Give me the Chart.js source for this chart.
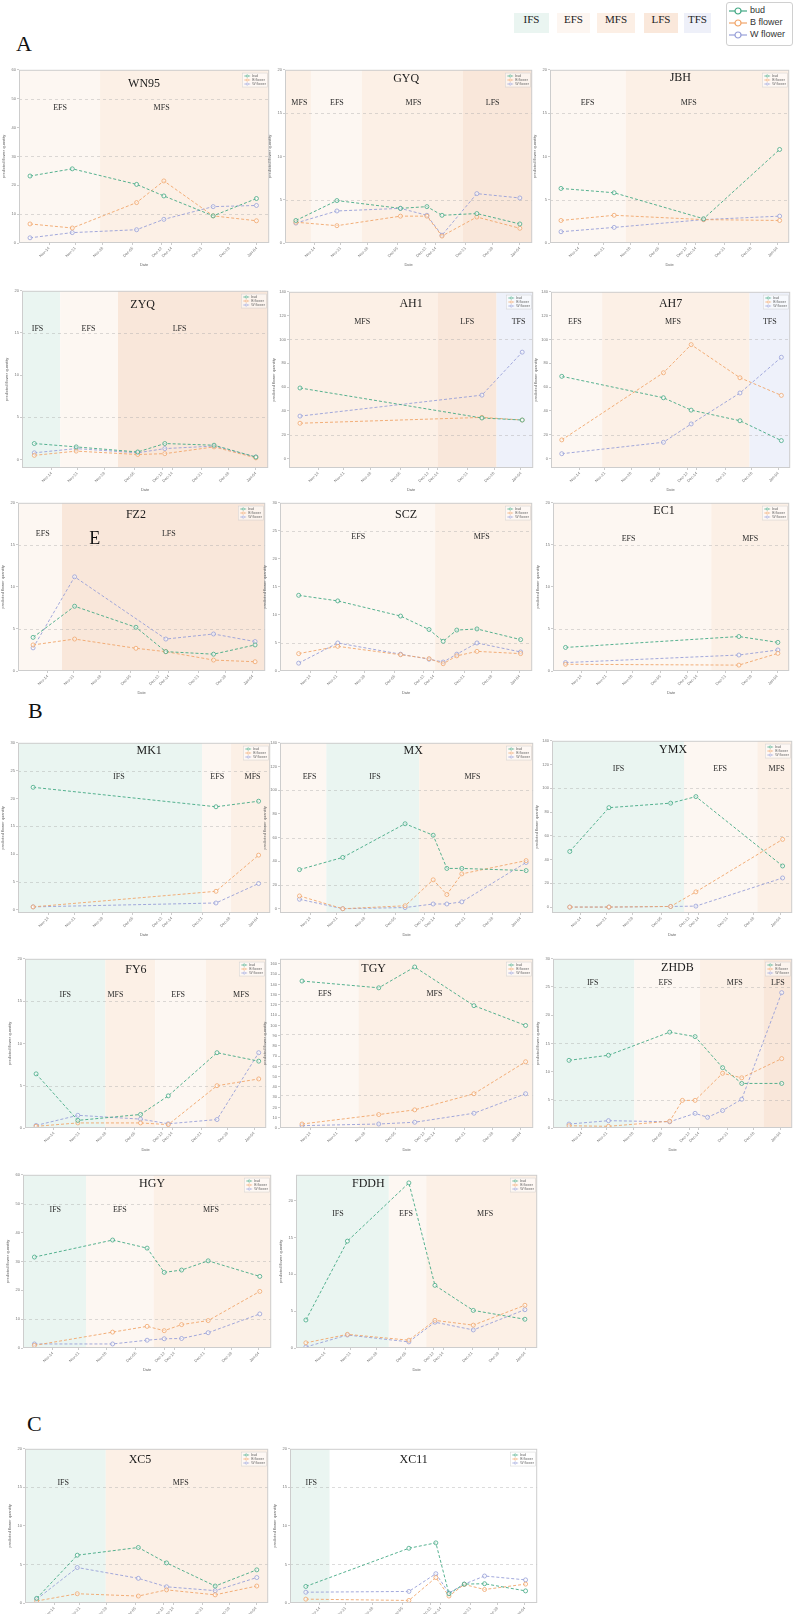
<!DOCTYPE html>
<html>
<head>
<meta charset="utf-8">
<script src="https://cdn.jsdelivr.net/npm/chart.js@4.4.1/dist/chart.umd.min.js"></script>
<style>
body { margin: 0; background: #fff; width: 794px; height: 1614px; position: relative; overflow: hidden; }
.sec { position: absolute; font: 22px "Liberation Serif", serif; color: #111; line-height: 26px; }
.ph { position: absolute; top: 13px; height: 20px; line-height: 20px; text-align: center; font: 11px "Liberation Serif", serif; color: #222; }
canvas.p { position: absolute; }
#lg { position: absolute; left: 726px; top: 2px; width: 67px; height: 44px; border: 1px solid #d0d0d0; border-radius: 3px; box-sizing: border-box; font: 9px "Liberation Sans Narrow", "Liberation Sans", sans-serif; color: #333; }
#lg div { position: absolute; left: 2px; height: 10px; line-height: 10px; white-space: nowrap; }
#lg svg { vertical-align: middle; margin-right: 3px; }
</style>
</head>
<body>
<div class="sec" style="left:16px;top:31px">A</div>
<div class="sec" style="left:28px;top:698px">B</div>
<div class="sec" style="left:27px;top:1411px">C</div>

<div class="ph" style="left:514px;width:35px;background:#eaf5f1">IFS</div>
<div class="ph" style="left:557px;width:33px;background:#fdf6f1">EFS</div>
<div class="ph" style="left:597px;width:38px;background:#fcefe5">MFS</div>
<div class="ph" style="left:644px;width:34px;background:#fae8db">LFS</div>
<div class="ph" style="left:684px;width:27px;background:#eef0f9">TFS</div>
<div id="lg"></div>

<script>
// 日期轴：以天计（0-100 的窗口），刻度标签
const tickDays = [12, 22.5, 33.5, 45.5, 57, 61, 73, 84, 95];
const tickLabels = ['Nov-14', 'Nov-21', 'Nov-28', 'Dec-05', 'Dec-12', 'Dec-14', 'Dec-21', 'Dec-28', 'Jan-04'];

const seriesNames = ['bud', 'B flower', 'W flower'];
const seriesColors = ['#44a985', '#f1a66b', '#979fd8'];

// ---- A ----
const wn95Day = [4.4, 21.3, 47, 57.9, 77.6, 94.9];
const wn95Bud = [23.2, 25.7, 20.3, 16.3, 9.4, 15.4];
const wn95B = [6.6, 5.2, 14, 21.5, 9.4, 7.7];
const wn95W = [1.8, 3.6, 4.6, 8.2, 12.6, 13];
const wn95Phases = [[0, 32.4, 'EFS', 16.4], [32.4, 100, 'MFS', 57]];

const gyqDay = [4.4, 21, 46.7, 57.4, 63.5, 77.6, 95];
const gyqBud = [2.6, 4.9, 4.0, 4.2, 3.2, 3.4, 2.2];
const gyqB = [2.4, 2.0, 3.1, 3.1, 0.8, 3.0, 1.7];
const gyqW = [2.3, 3.7, 4.0, 3.2, 0.9, 5.7, 5.2];
const gyqPhases = [[0, 10.5, 'MFS', 5.8], [10.5, 31, 'EFS', 21], [31, 72, 'MFS', 52], [72, 100, 'LFS', 84]];

const jbhDay = [4.6, 26.8, 64.2, 96];
const jbhBud = [6.3, 5.8, 2.8, 10.8];
const jbhB = [2.6, 3.2, 2.7, 2.6];
const jbhW = [1.3, 1.8, 2.7, 3.1];
const jbhPhases = [[0, 31.6, 'EFS', 15.7], [31.6, 100, 'MFS', 58]];

const zyqDay = [5, 22, 47, 58, 78, 95];
const zyqBud = [1.9, 1.5, 0.9, 1.9, 1.7, 0.3];
const zyqB = [0.5, 1.0, 0.6, 0.7, 1.5, 0.2];
const zyqW = [0.8, 1.3, 0.8, 1.3, 1.6, 0.3];
const zyqPhases = [[0, 15.5, 'IFS', 6.3], [15.5, 39, 'EFS', 27], [39, 100, 'LFS', 64]];

const ah1Day = [4.5, 79, 95.5];
const ah1Bud = [59.2, 34, 32.3];
const ah1B = [29.6, 34.5, 32.3];
const ah1W = [35.6, 53.2, 89.3];
const ah1Phases = [[0, 61, 'MFS', 30], [61, 85, 'LFS', 73], [85, 100, 'TFS', 94]];

const ah7Day = [4.5, 47, 58.6, 79, 96.3];
const ah7Bud = [69, 51, 40.6, 31.7, 15];
const ah7B = [15.6, 72, 95.6, 67.8, 53];
const ah7W = [4, 13.6, 29, 55, 85];
const ah7Phases = [[0, 21.4, 'EFS', 10], [21.4, 83, 'MFS', 51], [83, 100, 'TFS', 91.5]];

const fz2Day = [6.1, 22.9, 47.7, 59.8, 79.1, 95.9];
const fz2Bud = [4.0, 7.7, 5.2, 2.3, 2.0, 3.1];
const fz2B = [3.1, 3.8, 2.7, 2.3, 1.3, 1.1];
const fz2W = [2.75, 11.2, null, 3.8, 4.4, 3.5];
const fz2Phases = [[0, 17.8, 'EFS', 10], [17.8, 100, 'LFS', 61]];

const sczDay = [7.4, 22.9, 47.8, 59.1, 64.7, 70.1, 78.1, 95.4];
const sczBud = [13.5, 12.5, 9.8, 7.4, 5.3, 7.3, 7.5, 5.6];
const sczB = [3.1, 4.4, 2.9, 2.2, 1.3, 2.7, 3.5, 3.1];
const sczW = [1.4, 5.0, 3.0, 2.1, 1.6, 3.0, 5.0, 3.4];
const sczPhases = [[0, 61.5, 'EFS', 31], [61.5, 100, 'MFS', 80]];

const ec1Day = [5.3, 78.7, 95.2];
const ec1Bud = [2.8, 4.1, 3.4];
const ec1B = [0.8, 0.7, 2.1];
const ec1W = [1.0, 1.9, 2.5];
const ec1Phases = [[0, 67, 'EFS', 32], [67, 100, 'MFS', 83.5]];

// ---- B ----
const mk1Day = [6, 78.5, 95.4];
const mk1Bud = [22, 18.5, 19.5];
const mk1B = [0.5, 3.3, 9.8];
const mk1W = [0.5, 1.2, 4.7];
const mk1Phases = [[0, 73, 'IFS', 40], [73, 84.5, 'EFS', 79], [84.5, 100, 'MFS', 93]];

const mxDay = [7.7, 24.8, 49.4, 60.5, 65.9, 71.8, 97.2];
const mxBud = [33, 43.3, 71.7, 62, 34, 34, 32.2];
const mxB = [10.8, 0, 2.5, 24.4, 12, 29.4, 40.6];
const mxW = [8, 0, 1, 4, 4, 5.8, 39];
const mxPhases = [[0, 18.3, 'EFS', 11.7], [18.3, 55, 'IFS', 37.5], [55, 100, 'MFS', 76]];

const ymxDay = [7.4, 23.7, 49.4, 59.9, 96];
const ymxBud = [46.8, 83.7, 87.5, 93, 34.6];
const ymxB = [0, 0, 0.5, 12.8, 57];
const ymxW = [0, 0, 0.5, 0.8, 24.5];
const ymxPhases = [[0, 55, 'IFS', 27.7], [55, 85.5, 'EFS', 70], [85.5, 100, 'MFS', 93.5]];

const fy6Day = [4.6, 21.9, 47.9, 59.4, 79.6, 96.9];
const fy6Bud = [6.4, 0.9, 1.6, 3.8, 8.9, 7.9];
const fy6B = [0.2, 0.6, 0.6, 0.4, 5.0, 5.8];
const fy6W = [0.3, 1.5, 1.05, 0.5, 1.0, 8.9];
const fy6Phases = [[0, 33.3, 'IFS', 16.7], [33.3, 54, 'MFS', 37.5], [54, 75, 'EFS', 63.5], [75, 100, 'MFS', 89.6]];

const tgyDay = [8.7, 39, 53.2, 76.6, 97];
const tgyBud = [143.3, 136.7, 157, 119.3, 100];
const tgyB = [3.9, 13.1, 17.7, 33.4, 64.6];
const tgyW = [2.3, 3.9, 5.6, 14.4, 33.4];
const tgyPhases = [[0, 31, 'EFS', 17.7], [31, 100, 'MFS', 61]];

const zhdbDay = [6.7, 23.2, 48.8, 54.1, 59.4, 64.6, 70.9, 78.9, 95.6];
const zhdbBud = [12, 12.9, 17, null, 16.2, null, 10.7, 7.9, 7.9];
const zhdbB = [0.4, 0.3, 1.2, 4.9, 4.9, null, 9.7, 8.9, 12.3];
const zhdbW = [0.7, 1.3, 1.1, null, 2.6, 1.9, 3.1, 5.1, 24];
const zhdbPhases = [[0, 34, 'IFS', 16.6], [34, 61.5, 'EFS', 47], [61.5, 88, 'MFS', 76], [88, 100, 'LFS', 94]];

const hgyDay = [4.6, 36.1, 50, 56.9, 63.9, 74.6, 95.4];
const hgyBud = [31.5, 37.4, 34.6, 26.2, 27, 30.2, 24.8];
const hgyB = [0.9, 5.5, 7.5, 6, 8.1, 9.5, 19.6];
const hgyW = [1.4, 1.4, 2.7, 3.2, 3.3, 5.3, 11.8];
const hgyPhases = [[0, 25.4, 'IFS', 13], [25.4, 52.6, 'EFS', 39], [52.6, 100, 'MFS', 75.7]];

const fddhDay = [4.1, 21.3, 46.8, 57.6, 73.5, 94.9];
const fddhBud = [3.8, 14.5, 22.4, 8.5, 5.1, 3.9];
const fddhB = [0.7, 1.85, 1.06, 3.75, 3.1, 5.8];
const fddhW = [0.14, 1.76, 0.83, 3.5, 2.45, 5.2];
const fddhPhases = [[0, 38.5, 'IFS', 17.4], [38.5, 54, 'EFS', 45.6], [54, 100, 'MFS', 78.4]];

// ---- C ----
const xc5Day = [4.8, 21.5, 46.6, 58.2, 78.2, 95.3];
const xc5Bud = [0.6, 6.2, 7.2, 5.2, 2.2, 4.3];
const xc5B = [0.26, 1.2, 0.9, 1.7, 1.06, 2.2];
const xc5W = [0.5, 4.6, 3.2, 2.1, 1.6, 3.3];
const xc5Phases = [[0, 33.2, 'IFS', 15.7], [33.2, 100, 'MFS', 64]];

const xc11Day = [6.4, 48.1, 59, 64.3, 70.5, 78.7, 95.3];
const xc11Bud = [2.15, 7.1, 7.8, 1.2, 2.45, 2.5, 1.57];
const xc11B = [0.5, 0.33, 3.3, 0.9, 2.4, 1.75, 2.45];
const xc11W = [1.4, 1.5, 3.8, 1.3, 2.45, 3.5, 3.0];
const xc11Phases = [[0, 16, 'IFS', 8.6]];

const phaseColors = { IFS: '#eaf5f1', EFS: '#fdf7f2', MFS: '#fcf0e6', LFS: '#f9e7da', TFS: '#eef1fa' };

// 每个子图的位置（绘图区 左,上,右,下）、坐标轴范围、标题位置
const panels = [
    { name: 'WN95', day: wn95Day, s: [wn95Bud, wn95B, wn95W], phases: wn95Phases, y: [0, 60, 10], refs: [10, 30, 50], rect: [19, 68, 271, 243], tx: 50, ty: 14, ly: 38 },
    { name: 'GYQ', day: gyqDay, s: [gyqBud, gyqB, gyqW], phases: gyqPhases, y: [0, 20, 5], refs: [5, 15], rect: [285, 68, 534, 243], tx: 49, ty: 9, ly: 33 },
    { name: 'JBH', day: jbhDay, s: [jbhBud, jbhB, jbhW], phases: jbhPhases, y: [0, 20, 5], refs: [5, 15], rect: [550, 68, 791, 243], tx: 54.5, ty: 8, ly: 33 },
    { name: 'ZYQ', day: zyqDay, s: [zyqBud, zyqB, zyqW], phases: zyqPhases, y: [-1, 20, 5], refs: [5, 15], rect: [22, 289, 270, 468], tx: 49, ty: 14, ly: 38 },
    { name: 'AH1', day: ah1Day, s: [ah1Bud, ah1B, ah1W], phases: ah1Phases, y: [-8, 140, 20], refs: [20, 100], rect: [289, 290, 535, 468], tx: 50, ty: 12, ly: 30 },
    { name: 'AH7', day: ah7Day, s: [ah7Bud, ah7B, ah7W], phases: ah7Phases, y: [-8, 140, 20], refs: [20, 100], rect: [551, 290, 792, 468], tx: 50, ty: 12, ly: 30 },
    { name: 'FZ2', day: fz2Day, s: [fz2Bud, fz2B, fz2W], phases: fz2Phases, y: [0, 20, 5], refs: [5, 15], rect: [18, 501, 267, 671], tx: 47.7, ty: 12, ly: 31,
      extra: { text: 'E', x: 31, dy: 36, font: '18px "Liberation Serif", serif' } },
    { name: 'SCZ', day: sczDay, s: [sczBud, sczB, sczW], phases: sczPhases, y: [0, 30, 5], refs: [5, 25], rect: [280, 501, 534, 671], tx: 50, ty: 12, ly: 34 },
    { name: 'EC1', day: ec1Day, s: [ec1Bud, ec1B, ec1W], phases: ec1Phases, y: [0, 20, 5], refs: [5, 15], rect: [553, 501, 791, 671], tx: 47, ty: 8, ly: 36 },
    { name: 'MK1', day: mk1Day, s: [mk1Bud, mk1B, mk1W], phases: mk1Phases, y: [-0.6, 30, 5], refs: [5, 15, 25], rect: [18, 741, 272, 913], tx: 52, ty: 8, ly: 34 },
    { name: 'MX', day: mxDay, s: [mxBud, mxB, mxW], phases: mxPhases, y: [-3.6, 140, 20], refs: [20, 60, 100], rect: [280, 741, 535, 913], tx: 52.6, ty: 8, ly: 34 },
    { name: 'YMX', day: ymxDay, s: [ymxBud, ymxB, ymxW], phases: ymxPhases, y: [-5, 140, 20], refs: [20, 60, 100], rect: [552, 739, 794, 913], tx: 50.4, ty: 9, ly: 28 },
    { name: 'FY6', day: fy6Day, s: [fy6Bud, fy6B, fy6W], phases: fy6Phases, y: [0, 20, 5], refs: [5, 15], rect: [25, 957, 268, 1128], tx: 46, ty: 11, ly: 36 },
    { name: 'TGY', day: tgyDay, s: [tgyBud, tgyB, tgyW], phases: tgyPhases, y: [0, 165, 10], refs: [32, 62, 92, 124], rect: [280, 957, 535, 1128], tx: 37, ty: 10, ly: 35 },
    { name: 'ZHDB', day: zhdbDay, s: [zhdbBud, zhdbB, zhdbW], phases: zhdbPhases, y: [0, 30, 5], refs: [5, 15, 25], rect: [553, 957, 794, 1128], tx: 52, ty: 9, ly: 24 },
    { name: 'HGY', day: hgyDay, s: [hgyBud, hgyB, hgyW], phases: hgyPhases, y: [0, 60, 10], refs: [10, 30, 50], rect: [23, 1173, 273, 1348], tx: 52, ty: 9, ly: 35 },
    { name: 'FDDH', day: fddhDay, s: [fddhBud, fddhB, fddhW], phases: fddhPhases, y: [0, 23.5, 5], refs: [], rect: [296, 1173, 539, 1348], tx: 30, ty: 9, ly: 39 },
    { name: 'XC5', day: xc5Day, s: [xc5Bud, xc5B, xc5W], phases: xc5Phases, y: [0, 20, 5], refs: [5, 15], rect: [25, 1447, 270, 1603], tx: 47.3, ty: 11, ly: 34 },
    { name: 'XC11', day: xc11Day, s: [xc11Bud, xc11B, xc11W], phases: xc11Phases, y: [0, 20, 5], refs: [5, 15], rect: [290, 1447, 539, 1603], tx: 50, ty: 11, ly: 34 }
];

const Y_W = 18, X_H = 24, PAD_T = 3, PAD_R = 3;

// 子图装饰：阶段色带、虚线参考线、边框、标题、阶段标签、小图例
function makeDeco(p) {
    return {
        id: 'deco',
        beforeDatasetsDraw(chart) {
            const { ctx, chartArea: a, scales: { x, y } } = chart;
            ctx.save();
            ctx.beginPath();
            ctx.rect(a.left, a.top, a.right - a.left, a.bottom - a.top);
            ctx.clip();
            p.phases.forEach(ph => {
                const x0 = x.getPixelForValue(ph[0]);
                const x1 = x.getPixelForValue(ph[1]);
                ctx.fillStyle = phaseColors[ph[2]];
                ctx.fillRect(x0, a.top, x1 - x0, a.bottom - a.top);
            });
            ctx.setLineDash([3, 3]);
            ctx.lineWidth = 0.8;
            ctx.strokeStyle = 'rgba(170,170,170,0.5)';
            p.refs.forEach(v => {
                const py = Math.round(y.getPixelForValue(v)) + 0.5;
                ctx.beginPath();
                ctx.moveTo(a.left, py);
                ctx.lineTo(a.right, py);
                ctx.stroke();
            });
            ctx.restore();
        },
        afterDraw(chart) {
            const { ctx, chartArea: a, scales: { x } } = chart;
            ctx.save();
            ctx.strokeStyle = '#cdcdcd';
            ctx.lineWidth = 1;
            ctx.strokeRect(a.left + 0.5, a.top + 0.5, a.right - a.left - 1, a.bottom - a.top - 1);

            ctx.fillStyle = '#1a1a1a';
            ctx.textAlign = 'center';
            ctx.textBaseline = 'middle';
            ctx.font = '12px "Liberation Serif", serif';
            ctx.fillText(p.name, x.getPixelForValue(p.tx), a.top + p.ty);

            ctx.font = '8px "Liberation Serif", serif';
            ctx.fillStyle = '#2a2a2a';
            p.phases.forEach(ph => {
                ctx.fillText(ph[2], x.getPixelForValue(ph[3]), a.top + p.ly);
            });
            if (p.extra) {
                ctx.font = p.extra.font;
                ctx.fillStyle = '#111';
                ctx.fillText(p.extra.text, x.getPixelForValue(p.extra.x), a.top + p.extra.dy);
            }

            // 小图例
            const lx = a.right - 27, ly = a.top + 3;
            ctx.fillStyle = 'rgba(255,255,255,0.55)';
            ctx.strokeStyle = 'rgba(200,200,200,0.8)';
            ctx.lineWidth = 0.5;
            ctx.fillRect(lx, ly, 25, 14);
            ctx.strokeRect(lx + 0.25, ly + 0.25, 25, 14);
            ctx.textAlign = 'left';
            ctx.font = '3.5px "Liberation Sans", sans-serif';
            seriesNames.forEach((n, i) => {
                const yy = ly + 3.2 + i * 4;
                ctx.strokeStyle = seriesColors[i];
                ctx.lineWidth = 0.6;
                ctx.beginPath();
                ctx.moveTo(lx + 2, yy);
                ctx.lineTo(lx + 8, yy);
                ctx.stroke();
                ctx.beginPath();
                ctx.arc(lx + 5, yy, 1.1, 0, Math.PI * 2);
                ctx.fillStyle = '#fff';
                ctx.fill();
                ctx.stroke();
                ctx.fillStyle = '#666';
                ctx.fillText(n, lx + 10, yy);
            });
            ctx.restore();
        }
    };
}

function drawPanel(p) {
    const [L, T, R, B] = p.rect;
    const cv = document.createElement('canvas');
    cv.className = 'p';
    const w = R - L + Y_W + PAD_R, h = B - T + PAD_T + X_H;
    cv.width = w;
    cv.height = h;
    cv.style.left = (L - Y_W) + 'px';
    cv.style.top = (T - PAD_T) + 'px';
    cv.style.width = w + 'px';
    cv.style.height = h + 'px';
    document.body.appendChild(cv);

    const datasets = p.s.map((vals, i) => ({
        label: seriesNames[i],
        data: p.day.map((d, j) => vals[j] == null ? null : { x: d, y: vals[j] }).filter(Boolean),
        borderColor: seriesColors[i],
        backgroundColor: seriesColors[i],
        borderWidth: 0.9,
        borderDash: [3, 2],
        pointRadius: 2,
        pointBorderWidth: 0.8,
        pointBackgroundColor: 'rgba(255,255,255,0.5)',
        pointBorderColor: seriesColors[i],
        tension: 0,
        fill: false
    }));

    const tickFont = { size: 4, family: '"Liberation Sans", sans-serif' };
    new Chart(cv.getContext('2d'), {
        type: 'line',
        data: { datasets },
        options: {
            responsive: false,
            animation: false,
            devicePixelRatio: 1,
            layout: { padding: { top: PAD_T, right: PAD_R, left: 0, bottom: 0 } },
            plugins: { legend: { display: false }, tooltip: { enabled: false } },
            scales: {
                x: {
                    type: 'linear',
                    min: 0,
                    max: 100,
                    afterBuildTicks: s => { s.ticks = tickDays.map(v => ({ value: v })); },
                    afterFit: s => { s.height = X_H; },
                    ticks: {
                        autoSkip: false,
                        minRotation: 45,
                        maxRotation: 45,
                        padding: 1,
                        color: '#777',
                        font: tickFont,
                        callback: (v, i) => tickLabels[i]
                    },
                    grid: { drawOnChartArea: false, tickLength: 2, color: '#999', lineWidth: 0.5 },
                    border: { display: false },
                    title: { display: true, text: 'Date', color: '#666', font: { size: 4 }, padding: 0 }
                },
                y: {
                    type: 'linear',
                    min: p.y[0],
                    max: p.y[1],
                    afterBuildTicks: s => {
                        const t = [];
                        for (let v = 0; v <= p.y[1] + 1e-9; v += p.y[2]) t.push({ value: v });
                        s.ticks = t;
                    },
                    afterFit: s => { s.width = Y_W; },
                    ticks: { padding: 1, color: '#777', font: tickFont },
                    grid: { drawOnChartArea: false, tickLength: 2, color: '#999', lineWidth: 0.5 },
                    border: { display: false },
                    title: { display: true, text: 'predicted flower quantity', color: '#666', font: { size: 4 }, padding: 0 }
                }
            }
        },
        plugins: [makeDeco(p)]
    });
}

// 顶部总图例
function drawMainLegend() {
    const lg = document.getElementById('lg');
    seriesNames.forEach((n, i) => {
        const row = document.createElement('div');
        row.style.top = (7 + i * 12 - 5) + 'px';
        row.innerHTML = '<svg width="18" height="8"><line x1="0" y1="4" x2="18" y2="4" stroke="' + seriesColors[i] +
            '" stroke-width="1.2"/><circle cx="9" cy="4" r="3" fill="#fff" stroke="' + seriesColors[i] +
            '" stroke-width="1.2"/></svg>' + n;
        lg.appendChild(row);
    });
}

drawMainLegend();
panels.forEach(drawPanel);
</script>
</body>
</html>
